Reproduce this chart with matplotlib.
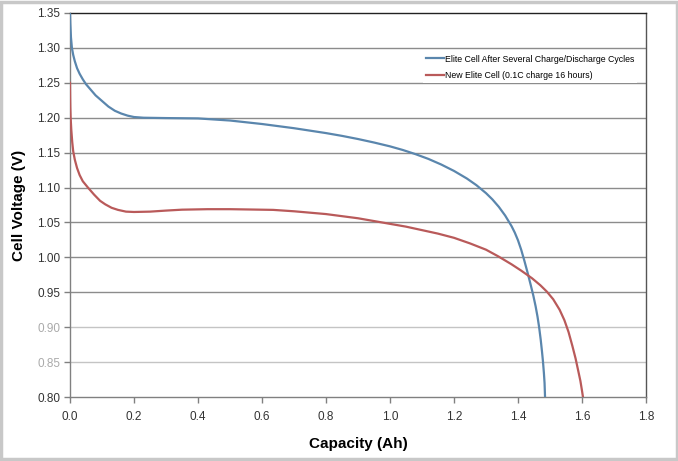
import matplotlib
matplotlib.use("Agg")
import matplotlib.pyplot as plt
from matplotlib.patches import Rectangle

# ---- data ----
blue_x = [0, 0.001, 0.003, 0.006, 0.01, 0.015, 0.022, 0.03, 0.04, 0.05, 0.065, 0.08, 0.1,
          0.12, 0.14, 0.16, 0.18, 0.2, 0.23, 0.3, 0.4, 0.5, 0.6, 0.7, 0.8, 0.85, 0.9, 0.95,
          1.0, 1.04, 1.08, 1.12, 1.16, 1.2, 1.24, 1.27, 1.3, 1.32, 1.34, 1.36, 1.38, 1.39,
          1.40, 1.41, 1.42, 1.43, 1.44, 1.448, 1.455, 1.461, 1.466, 1.471, 1.475, 1.478,
          1.481, 1.483, 1.4845]
blue_y = [1.35, 1.335, 1.315, 1.30, 1.29, 1.281, 1.271, 1.263, 1.255, 1.248, 1.240, 1.232,
          1.224, 1.216, 1.210, 1.206, 1.203, 1.201, 1.200, 1.1995, 1.199, 1.196, 1.191,
          1.185, 1.178, 1.174, 1.1695, 1.1645, 1.159, 1.1538, 1.1478, 1.141, 1.133, 1.1238,
          1.113, 1.1034, 1.092, 1.083, 1.0724, 1.0598, 1.0446, 1.0354, 1.0244, 1.0109,
          0.995, 0.978, 0.96, 0.945, 0.93, 0.915, 0.90, 0.882, 0.865, 0.851, 0.834, 0.82,
          0.80]

red_x = [0, 0.0005, 0.001, 0.002, 0.004, 0.007, 0.01, 0.015, 0.022, 0.03, 0.04, 0.056,
         0.075, 0.094, 0.11, 0.13, 0.15, 0.175, 0.2, 0.25, 0.3, 0.35, 0.43, 0.5, 0.57,
         0.635, 0.7, 0.75, 0.8, 0.9, 0.95, 1.0, 1.05, 1.1, 1.15, 1.2, 1.25, 1.3, 1.34,
         1.38, 1.41, 1.444, 1.47, 1.49, 1.51, 1.53, 1.545, 1.558, 1.57, 1.58, 1.588,
         1.595, 1.6, 1.603]
red_y = [1.25, 1.23, 1.215, 1.20, 1.183, 1.165, 1.152, 1.14, 1.128, 1.118, 1.109, 1.10,
         1.09, 1.081, 1.076, 1.071, 1.068, 1.0655, 1.065, 1.0655, 1.067, 1.0683, 1.069,
         1.069, 1.0685, 1.068, 1.066, 1.064, 1.062, 1.056, 1.052, 1.048, 1.044, 1.039,
         1.034, 1.028, 1.020, 1.011, 1.001, 0.990, 0.981, 0.970, 0.960, 0.951, 0.940,
         0.925, 0.91, 0.893, 0.873, 0.855, 0.838, 0.823, 0.809, 0.80]

blue_label = "Elite Cell After Several Charge/Discharge Cycles"
red_label = "New Elite Cell (0.1C charge 16 hours)"
x_ticks = [0.0, 0.2, 0.4, 0.6, 0.8, 1.0, 1.2, 1.4, 1.6, 1.8]
y_ticks = [0.80, 0.85, 0.90, 0.95, 1.00, 1.05, 1.10, 1.15, 1.20, 1.25, 1.30, 1.35]

fig = plt.figure(figsize=(6.78, 4.61), dpi=100)
ax = fig.add_axes([70/678, 1-397/461, 576/678, 384/461])

for yt in y_ticks[1:-1]:
    col = "#c4c4c4" if round(yt, 2) in (0.85, 0.90) else "#8c8c8c"
    ax.axhline(yt, color=col, lw=1.0, zorder=1)

ax.plot(blue_x, blue_y, color="#5a86ad", lw=1.6, label=blue_label, zorder=3)
ax.plot(red_x, red_y, color="#b95a5a", lw=1.6, label=red_label, zorder=3)

ax.set_xlim(0, 1.8)
ax.set_ylim(0.80, 1.35)
ax.set_xticks(x_ticks)
ax.set_yticks(y_ticks)
ax.set_xticklabels([f"{v:.1f}" for v in x_ticks], fontfamily="Liberation Sans", fontsize=8.5, color="#333333")
ax.set_yticklabels([f"{v:.2f}" for v in y_ticks], fontfamily="Liberation Sans", fontsize=8.5, color="#333333")
for lab, v in zip(ax.get_yticklabels(), y_ticks):
    if round(v, 2) in (0.85, 0.90):
        lab.set_color("#aaaaaa")
ax.tick_params(axis="both", direction="out", length=4, color="#808080", width=1)
ax.tick_params(axis="x", pad=6)
ax.tick_params(axis="y", pad=3)

ax.spines["top"].set_color("#222222")
ax.spines["right"].set_color("#555555")
ax.spines["left"].set_color("#808080")
ax.spines["bottom"].set_color("#808080")
for s in ax.spines.values():
    s.set_linewidth(1.0)

ax.set_xlabel("Capacity (Ah)", fontfamily="Liberation Sans", fontweight="bold", fontsize=11, labelpad=10)
ax.set_ylabel("Cell Voltage (V)", fontfamily="Liberation Sans", fontweight="bold", fontsize=11, labelpad=8)

leg = ax.legend(loc="upper left", bbox_to_anchor=(0.606, 0.91), frameon=True, fancybox=False,
                edgecolor="none", facecolor="white", framealpha=1.0,
                prop={"family": "Liberation Sans", "size": 6.3}, handlelength=2.0,
                handletextpad=0.2, borderpad=0.3, labelspacing=0.9)

fig.patches.append(Rectangle((0.002, 0.004), 0.996, 0.992, transform=fig.transFigure,
                             fill=False, edgecolor="#c8c8c8", lw=2.5))

fig.savefig("out.png", dpi=100)
